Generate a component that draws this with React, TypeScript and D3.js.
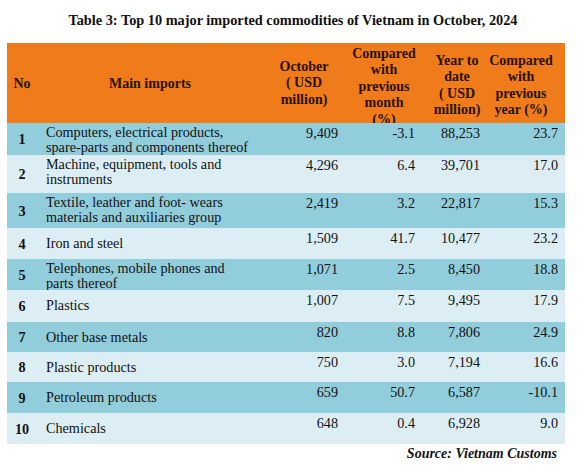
import React from "react";
import * as d3 from "d3";

const title = "Table 3: Top 10 major imported commodities of Vietnam in October, 2024";
const source = "Source: Vietnam Customs";

const headers: string[][] = [
  ["No"],
  ["Main imports"],
  ["October", "( USD", "million)"],
  ["Compared", "with", "previous", "month", "(%)"],
  ["Year to", "date", "( USD", "million)"],
  ["Compared", "with", "previous", "year (%)"],
];

const rowNos = ["1", "2", "3", "4", "5", "6", "7", "8", "9", "10"];
const imports: string[][] = [
  ["Computers, electrical products,", "spare-parts and  components thereof"],
  ["Machine, equipment, tools and", "instruments"],
  ["Textile, leather and foot- wears", "materials and auxiliaries group"],
  ["Iron and steel"],
  ["Telephones, mobile phones and", "parts thereof"],
  ["Plastics"],
  ["Other base metals"],
  ["Plastic products"],
  ["Petroleum products"],
  ["Chemicals"],
];
const october = ["9,409", "4,296", "2,419", "1,509", "1,071", "1,007", "820", "750", "659", "648"];
const vsMonth = ["-3.1", "6.4", "3.2", "41.7", "2.5", "7.5", "8.8", "3.0", "50.7", "0.4"];
const ytd = ["88,253", "39,701", "22,817", "10,477", "8,450", "9,495", "7,806", "7,194", "6,587", "6,928"];
const vsYear = ["23.7", "17.0", "15.3", "23.2", "18.8", "17.9", "24.9", "16.6", "-10.1", "9.0"];

// layout
const W = 578, H = 469;
const left = 7, right = 565;
const headTop = 43, headBottom = 123;
const rowHeights = [32, 38, 35, 31, 31, 32, 30, 30, 31, 31];
const rowTops = [headBottom, ...Array.from(d3.cumsum(rowHeights)).map((c) => headBottom + c)];

const ORANGE = "#EF7B1B";
const DARK = "#92CDDC";
const LIGHT = "#DCEEF4";
const SERIF = "'Liberation Serif', 'Times New Roman', serif";

export default function App() {
  const numX = [338, 415, 480, 558];
  const headX = [22, 150, 304, 384, 457, 521];
  const headStartY = [88, 88, 71, 58, 65, 65];
  const lh = 16.4;
  const numCols = [october, vsMonth, ytd, vsYear];
  const FS = 14.2;

  return (
    <svg width={W} height={H} style={{ position: "absolute", left: 0, top: 0, background: "#fff" }} fontFamily={SERIF}>
      <rect x={0} y={0} width={W} height={H} fill="#fff" />
      <text x={293} y={25} textAnchor="middle" fontWeight="bold" fontSize={14.3} fill="#111">
        {title}
      </text>
      <rect x={left} y={headTop} width={right - left} height={headBottom - headTop} fill={ORANGE} />
      {headers.map((lines, c) => (
        <text key={c} textAnchor="middle" fontWeight="bold" fontSize={14} fill="#2a1200">
          {lines.map((l, k) => (
            <tspan key={k} x={headX[c]} y={headStartY[c] + k * lh}>{l}</tspan>
          ))}
        </text>
      ))}
      {rowNos.map((no, i) => {
        const top = rowTops[i];
        const h = rowHeights[i];
        const two = imports[i].length > 1;
        const labelBase = two ? top + 14 : top + 20;
        const numBase = top + 15;
        return (
          <g key={no}>
            <rect x={left} y={top} width={right - left} height={h} fill={i % 2 === 0 ? DARK : LIGHT} />
            <text x={22} y={top + h / 2 + 5} textAnchor="middle" fontWeight="bold" fontSize={FS} fill="#111">{no}</text>
            <text fontSize={FS} fill="#111">
              {imports[i].map((l, k) => (
                <tspan key={k} x={46} y={labelBase + k * 15}>{l}</tspan>
              ))}
            </text>
            {numCols.map((col, c) => (
              <text key={c} x={numX[c]} y={numBase} textAnchor="end" fontSize={FS} fill="#111">{col[i]}</text>
            ))}
          </g>
        );
      })}
      <text x={557} y={458} textAnchor="end" fontWeight="bold" fontStyle="italic" fontSize={14} fill="#111">
        {source}
      </text>
    </svg>
  );
}
